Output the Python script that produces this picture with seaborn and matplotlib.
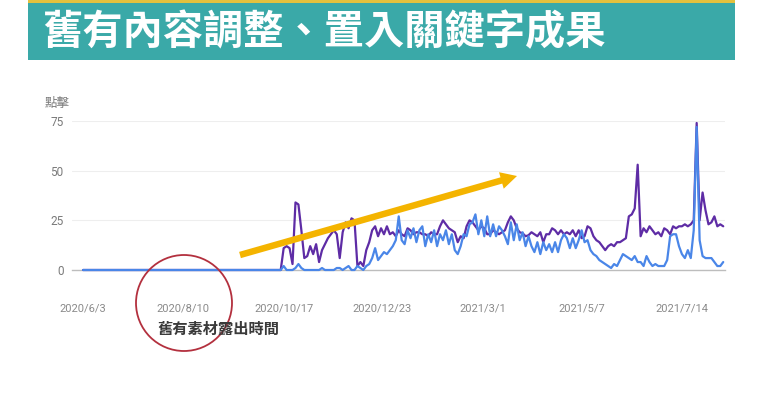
import numpy as np
import pandas as pd
import matplotlib
matplotlib.use("Agg")
import matplotlib.pyplot as plt
import seaborn as sns
from matplotlib.patches import Rectangle, Ellipse

# ---------------- data (2-day steps) ----------------
start_date = "2020-06-03"
step_days = 2

impressions = [0] * 68 + [
    11, 12, 11, 3, 34, 33, 20, 6, 7, 12, 8, 13,
    4, 10, 13, 16, 18, 20, 18, 6, 19, 24, 21, 26,
    25, 2, 4, 2, 10, 14, 20, 22, 17, 21, 18, 22,
    18, 19, 17, 20, 18, 17, 21, 20, 18, 19, 19, 18,
    18, 17, 19, 18, 18, 22, 25, 23, 21, 20, 19, 14,
    17, 16, 22, 25, 24, 22, 20, 22, 21, 18, 18, 20,
    19, 18, 19, 20, 24, 27, 25, 21, 19, 18.5, 17, 17.5,
    19, 18, 17, 19, 14, 18, 18, 21, 20, 18, 20, 18,
    19, 18, 20, 17, 20, 16, 17, 22, 21, 17, 15, 14,
    12, 10, 12, 13, 12, 14, 14, 15, 16, 27, 28, 31,
    53, 17, 21, 19, 22, 20, 18, 19, 17, 21, 20, 18,
    22, 21, 22, 22, 23, 22, 23, 25, 74, 25, 39, 30,
    23, 24, 27, 22, 23, 22,
]

clicks = [0] * 68 + [
    2, 0, 0, 0, 1, 3, 1, 0, 0, 0, 0, 0,
    0, 1, 0, 0, 0, 0, 1, 1, 0, 1, 2, 0,
    0, 2, 1, 0, 2, 3, 6, 11, 5, 7, 9, 8,
    10, 12, 15, 27, 15, 13, 20, 16, 21, 14, 20, 22,
    12, 18, 14, 20, 12, 18, 15, 20, 13, 18, 10, 8,
    12, 18, 17, 23, 24, 28, 18, 25, 17, 27, 17, 23,
    17, 22, 20, 17, 13, 24, 15, 23, 15, 19, 12, 17,
    12, 9, 14, 8, 14, 10, 13, 9, 14, 9, 15, 18,
    16, 11, 16, 11, 15, 20, 14, 15, 10, 8, 7, 5,
    4, 3, 2, 1, 3, 2, 5, 8, 7, 6, 5, 7,
    4, 4, 2, 7, 4, 2, 3, 2, 2, 2, 5, 17,
    18, 18, 12, 8, 6, 10, 6, 20, 72, 15, 7, 6,
    6, 6, 4, 2, 2, 4,
]

tick_dates = ["2020-06-03", "2020-08-10", "2020-10-17", "2020-12-23",
              "2021-03-01", "2021-05-07", "2021-07-14"]
tick_labels = ["2020/6/3", "2020/8/10", "2020/10/17", "2020/12/23",
               "2021/3/1", "2021/5/7", "2021/7/14"]
y_ticks = [0, 25, 50, 75]

title_text = "舊有內容調整、置入關鍵字成果"
y_title = "點擊"
note_text = "舊有素材露出時間"

# ---------------- styling ----------------
sns.set_theme(style="white")
plt.rcParams["font.family"] = ["Roboto", "Noto Sans CJK TC", "DejaVu Sans"]

W, H = 768, 396
fig = plt.figure(figsize=(W / 100, H / 100), dpi=100, facecolor="white")

# banner
fig.add_artist(Rectangle((28 / W, 1 - 60 / H), 707 / W, 57 / H,
                         transform=fig.transFigure, color="#3AA9A8", lw=0))
fig.add_artist(Rectangle((28 / W, 1 - 3 / H), 707 / W, 3 / H,
                         transform=fig.transFigure, color="#E3C13E", lw=0))
fig.text(42 / W, 1 - 33 / H, title_text, color="white", fontsize=29,
         fontweight="bold", va="center", ha="left",
         family=["Noto Sans CJK TC", "DejaVu Sans"])

ax = fig.add_axes([72 / W, 1 - 270 / H, 653 / W, 149 / H])

dates = pd.date_range(start_date, periods=len(clicks), freq=f"{step_days}D")
df = pd.DataFrame({"date": dates, "impressions": impressions, "clicks": clicks})

sns.lineplot(data=df, x="date", y="impressions", color="#5E2CA5", lw=1.6, ax=ax)
sns.lineplot(data=df, x="date", y="clicks", color="#4A86E8", lw=1.6, ax=ax)
for k, ln in enumerate(ax.lines):
    ln.set_clip_on(False)
    ln.set_zorder(3 + k)

t0 = pd.Timestamp(start_date)
ax.set_xlim(t0 - pd.Timedelta(days=7.5), t0 + pd.Timedelta(days=435.2))
ax.set_ylim(0, 75)

ax.set_xticks(pd.to_datetime(tick_dates))
ax.set_xticklabels(tick_labels)
ax.set_yticks(y_ticks)
ax.set_yticklabels([str(v) for v in y_ticks])
ax.tick_params(axis="x", length=0, pad=24, labelsize=8, labelcolor="#8a8a8a")
ax.tick_params(axis="y", length=0, pad=6, labelsize=8.5, labelcolor="#7a7a7a")
ax.set_xlabel("")
ax.set_ylabel("")

ax.yaxis.grid(True, color="#eeeeee", lw=0.8)
ax.set_axisbelow(True)
for s in ["top", "right", "left"]:
    ax.spines[s].set_visible(False)
ax.spines["bottom"].set_color("#bdbdbd")
ax.spines["bottom"].set_linewidth(1.0)
ax.spines["bottom"].set_zorder(1)
ax.patch.set_alpha(0)

fig.text(57 / W, 1 - 104 / H, y_title, fontsize=9, color="#7a7a7a",
         ha="center", va="center", family=["Noto Sans CJK TC", "DejaVu Sans"])

# yellow arrow
ax.annotate("", xy=(517, H - 176), xycoords="figure pixels",
            xytext=(240, H - 255), textcoords="figure pixels",
            arrowprops=dict(arrowstyle="simple,head_length=0.9,head_width=0.95,tail_width=0.36",
                            mutation_scale=13, color="#F4B400", lw=0,
                            shrinkA=0, shrinkB=0),
            annotation_clip=False, zorder=10)

# red circle + note
fig.add_artist(Ellipse((184 / W, 1 - 303 / H), 96 / W, 96 / H,
                       transform=fig.transFigure, fill=False,
                       ec="#B3303E", lw=1.3))
fig.text(157 / W, 1 - 329 / H, note_text, fontsize=11, fontweight="bold",
         color="#3a3a3a", ha="left", va="center",
         family=["Noto Sans CJK TC", "DejaVu Sans"])

fig.savefig("out.png", dpi=100, facecolor="white")
